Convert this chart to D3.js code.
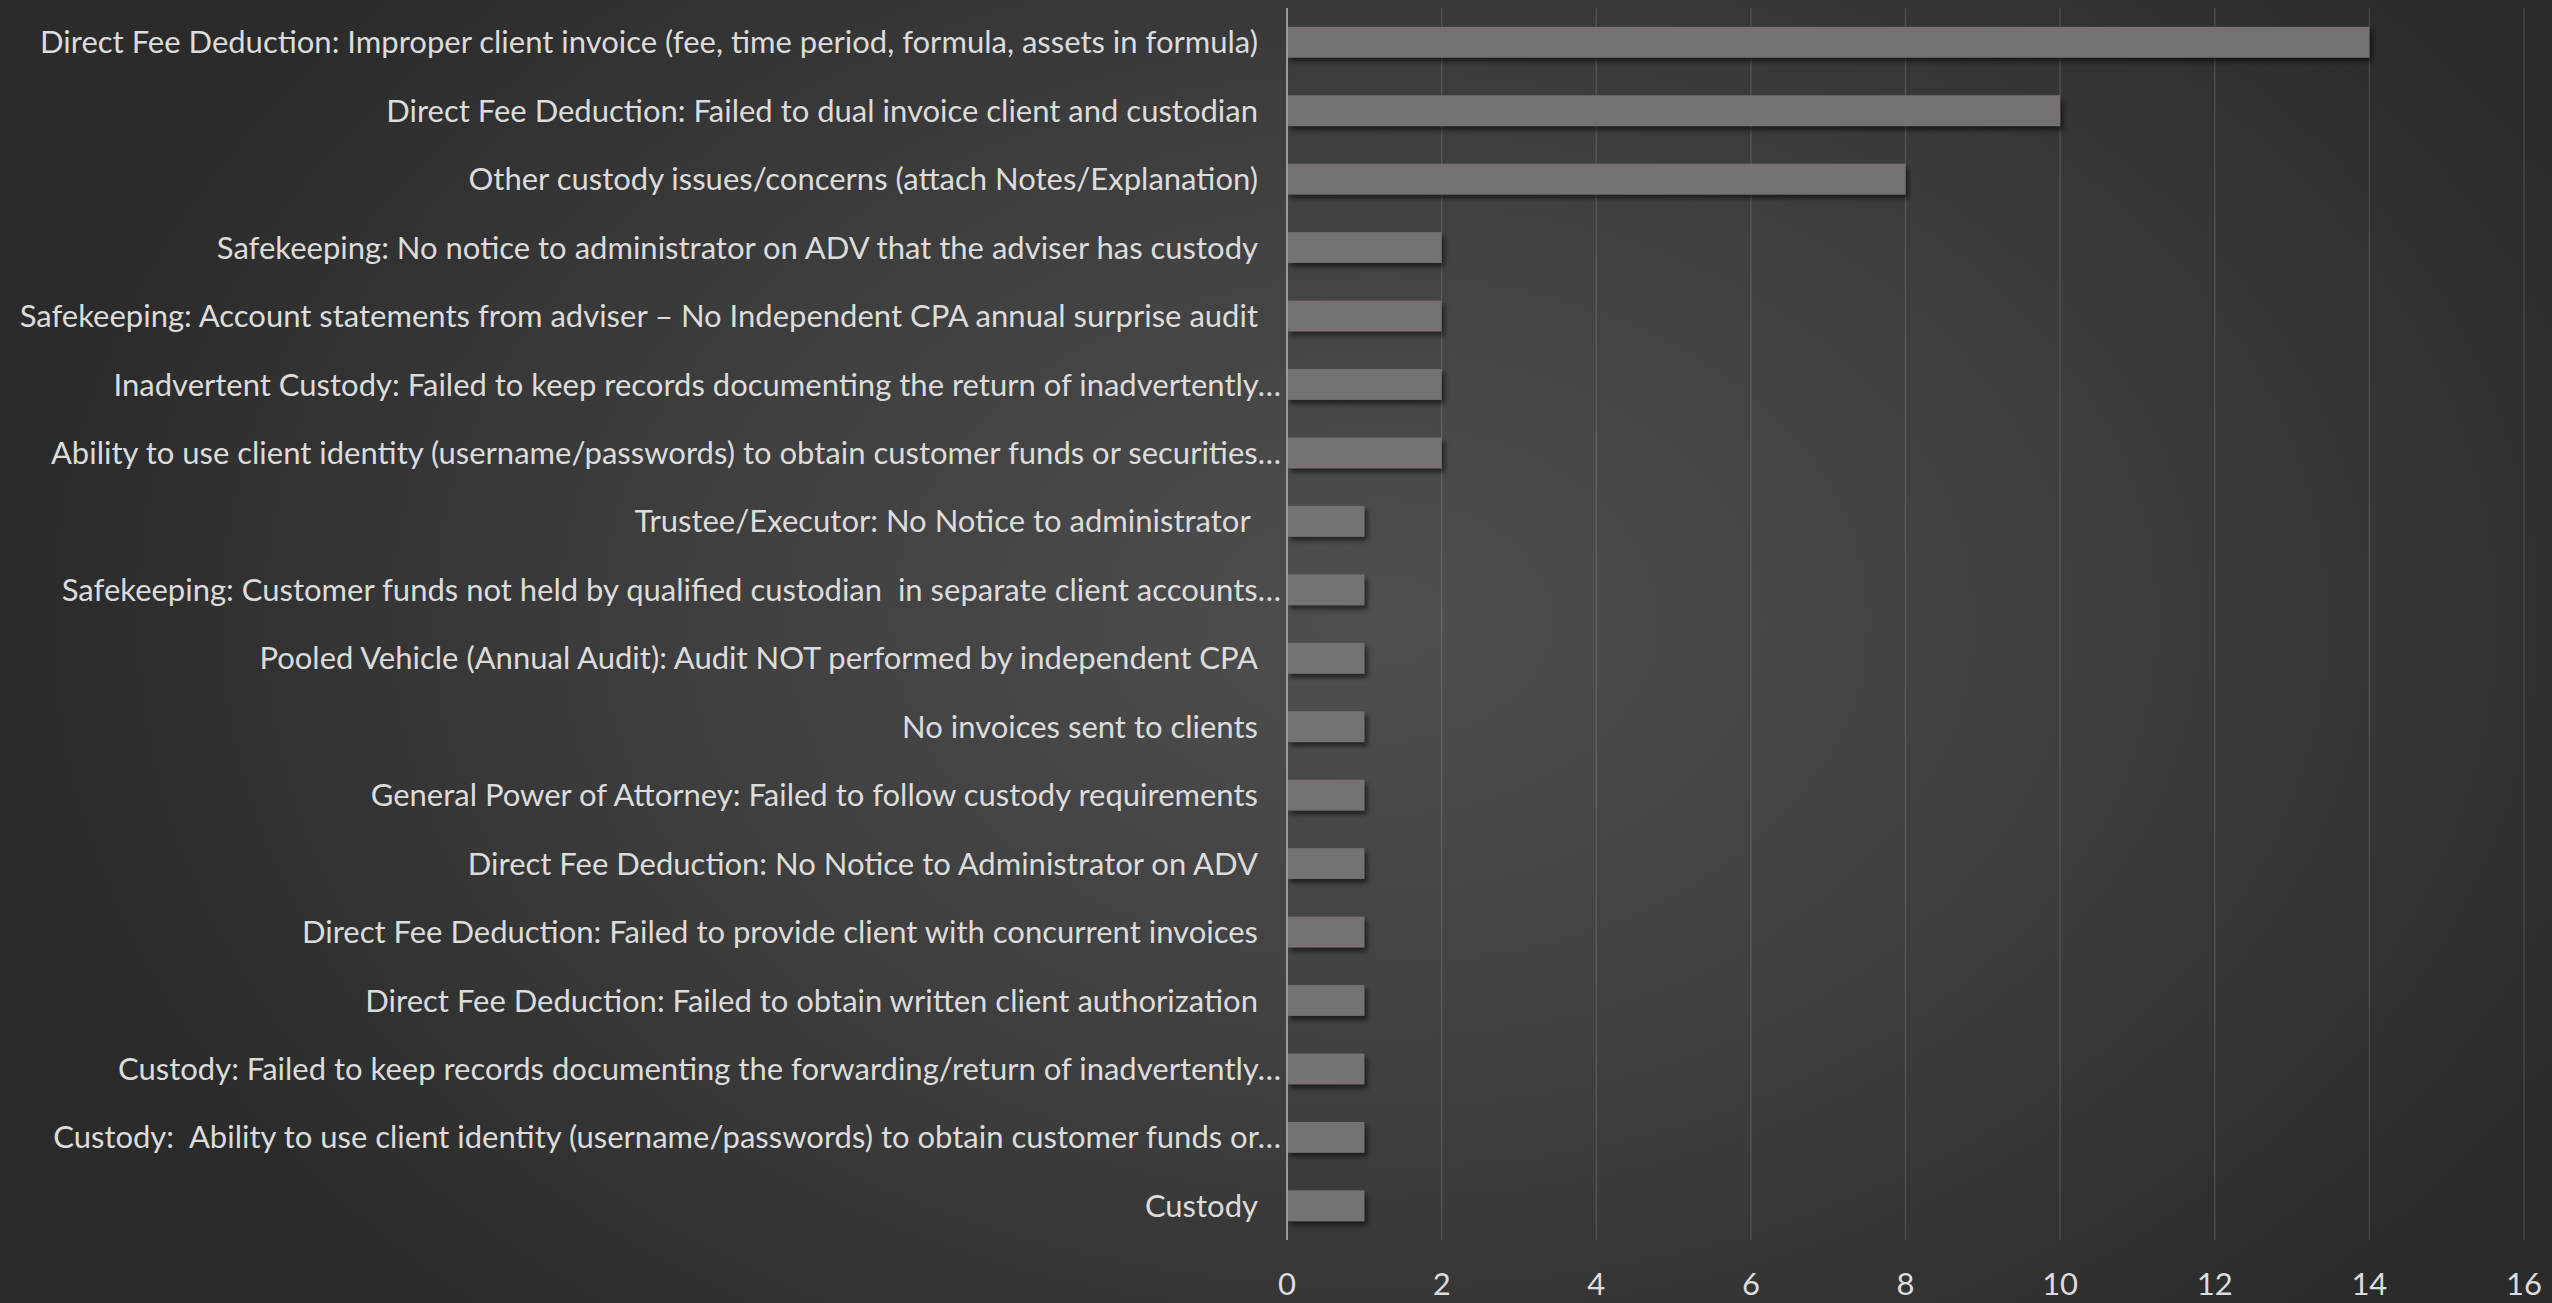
<!DOCTYPE html>
<html>
<head>
<meta charset="utf-8">
<script src="https://cdn.jsdelivr.net/npm/d3@7"></script>
<style>
  html, body { margin: 0; padding: 0; }
  body {
    width: 2552px; height: 1303px; overflow: hidden;
    background: radial-gradient(ellipse 1350px 950px at 1380px 620px, #4f4f4f 0%, #3f3f3f 50%, #2b2b2b 100%);
  }
  text { font-family: Lato, "Open Sans", sans-serif; fill: #dcdcdc; white-space: pre; }
</style>
</head>
<body>
<div id="chart"></div>
<script>
// categories, top to bottom
var categories = [
  "Direct Fee Deduction: Improper client invoice (fee, time period, formula, assets in formula)",
  "Direct Fee Deduction: Failed to dual invoice client and custodian",
  "Other custody issues/concerns (attach Notes/Explanation)",
  "Safekeeping: No notice to administrator on ADV that the adviser has custody",
  "Safekeeping: Account statements from adviser \u2013 No Independent CPA annual surprise audit",
  "Inadvertent Custody: Failed to keep records documenting the return of inadvertently\u2026",
  "Ability to use client identity (username/passwords) to obtain customer funds or securities\u2026",
  "Trustee/Executor: No Notice to administrator ",
  "Safekeeping: Customer funds not held by qualified custodian  in separate client accounts\u2026",
  "Pooled Vehicle (Annual Audit): Audit NOT performed by independent CPA",
  "No invoices sent to clients",
  "General Power of Attorney: Failed to follow custody requirements",
  "Direct Fee Deduction: No Notice to Administrator on ADV",
  "Direct Fee Deduction: Failed to provide client with concurrent invoices",
  "Direct Fee Deduction: Failed to obtain written client authorization",
  "Custody: Failed to keep records documenting the forwarding/return of inadvertently\u2026",
  "Custody:  Ability to use client identity (username/passwords) to obtain customer funds or\u2026",
  "Custody"
]
var counts = [14, 10, 8, 2, 2, 2, 2, 1, 1, 1, 1, 1, 1, 1, 1, 1, 1, 1]
var xTicks = [0, 2, 4, 6, 8, 10, 12, 14, 16]

var width = 2552
var height = 1303
var plotLeft = 1287, plotRight = 2524, plotTop = 8, plotBottom = 1240

var svg = d3.select("#chart")
  .append("svg")
  .attr("width", width)
  .attr("height", height)

// shadow under the bars
var defs = svg.append("defs")
var f = defs.append("filter").attr("id", "shadow")
  .attr("x", "-5%").attr("y", "-30%").attr("width", "120%").attr("height", "180%")
f.append("feDropShadow")
  .attr("dx", 3).attr("dy", 4).attr("stdDeviation", 2.5)
  .attr("flood-color", "#000").attr("flood-opacity", 0.55)

var x = d3.scaleLinear().domain([0, 16]).range([plotLeft, plotRight])

var y = d3.scaleBand()
  .domain(categories)
  .range([plotTop, plotBottom])
  .paddingInner(0.55)
  .paddingOuter(0.275)

// vertical gridlines
svg.selectAll(".grid")
  .data(xTicks.filter(function(d) { return d > 0 }))
  .enter()
  .append("line")
  .attr("x1", function(d) { return x(d) })
  .attr("x2", function(d) { return x(d) })
  .attr("y1", plotTop)
  .attr("y2", plotBottom)
  .attr("stroke", "#ffffff")
  .attr("stroke-opacity", 0.12)
  .attr("stroke-width", 1.5)

// bars
svg.selectAll(".bar")
  .data(counts)
  .enter()
  .append("rect")
  .attr("x", x(0))
  .attr("y", function(d, i) { return y(categories[i]) })
  .attr("width", function(d) { return x(d) - x(0) })
  .attr("height", y.bandwidth())
  .attr("fill", "#767271")
  .attr("filter", "url(#shadow)")

// axis line at zero
svg.append("line")
  .attr("x1", x(0)).attr("x2", x(0))
  .attr("y1", plotTop).attr("y2", plotBottom)
  .attr("stroke", "#9a9a9a")
  .attr("stroke-width", 2)

// category labels (the cut-off ones sit closer to the axis, like Excel does)
svg.selectAll(".label")
  .data(categories)
  .enter()
  .append("text")
  .attr("x", function(d) { return d.slice(-1) === "\u2026" ? x(0) - 6 : x(0) - 29 })
  .attr("y", function(d) { return y(d) + y.bandwidth() / 2 })
  .attr("dy", "0.36em")
  .attr("text-anchor", "end")
  .attr("font-size", 31)
  .text(function(d) { return d })

// x tick labels
svg.selectAll(".tick")
  .data(xTicks)
  .enter()
  .append("text")
  .attr("x", function(d) { return x(d) })
  .attr("y", 1284)
  .attr("dy", "0.36em")
  .attr("text-anchor", "middle")
  .attr("font-size", 31)
  .text(function(d) { return d })
</script>
</body>
</html>
